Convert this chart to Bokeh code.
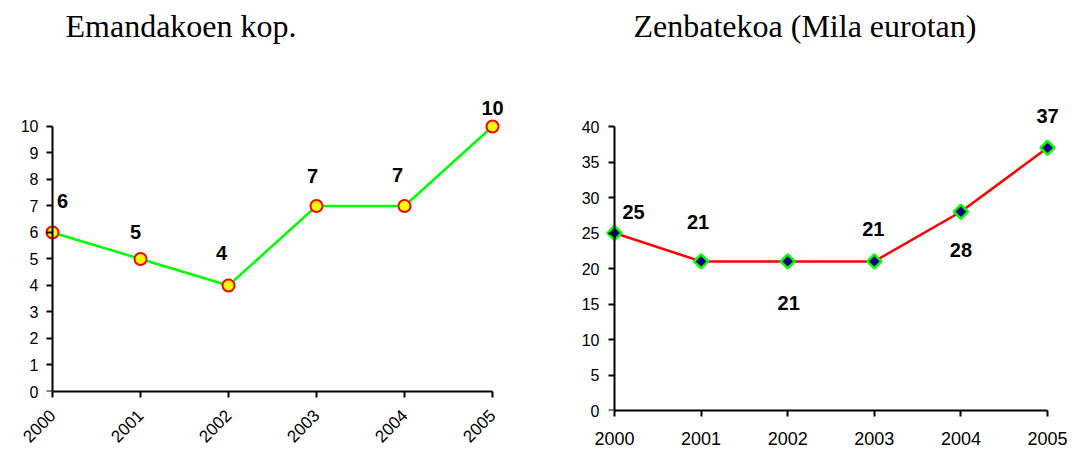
import math
from bokeh.plotting import figure
from bokeh.models import ColumnDataSource, Range1d, FixedTicker, LinearAxis
from bokeh.layouts import row
from bokeh.embed import file_html
from bokeh.resources import INLINE
from bokeh.core.properties import value

# ---- data ----
years = [2000, 2001, 2002, 2003, 2004, 2005]
count_values = [6, 5, 4, 7, 7, 10]
amount_values = [25, 21, 21, 21, 28, 37]
count_labels = ["6", "5", "4", "7", "7", "10"]
amount_labels = ["25", "21", "21", "21", "28", "37"]
left_yticks = [0, 1, 2, 3, 4, 5, 6, 7, 8, 9, 10]
right_yticks = [0, 5, 10, 15, 20, 25, 30, 35, 40]
left_title = "Emandakoen kop."
right_title = "Zenbatekoa (Mila eurotan)"

# ---- label placement (pixel offsets from each point) ----
count_dx = [10, -5, -7, -4, -7, 0]
count_dy = [-31, -27, -32, -30, -31, -18]
amount_dx = [19, -3, 1, -1, 0, 0]
amount_dy = [-21, -39, 42, -32, 38, -32]

SANS = "Liberation Sans"
SERIF = "Liberation Serif"


def build(title, yticks, frame_w, frame_h, xr, yr, mb_left, mb_right,
          ylab_standoff, xlab_size, xlab_standoff, orient, title_offset):
    p = figure(
        title=title,
        frame_width=frame_w, frame_height=frame_h,
        x_range=Range1d(*xr), y_range=Range1d(*yr),
        min_border_left=mb_left, min_border_right=mb_right,
        min_border_top=0, min_border_bottom=0,
        output_backend="svg", toolbar_location=None,
    )
    p.xgrid.visible = False
    p.ygrid.visible = False
    p.outline_line_color = None

    # title
    p.title.text_font = SERIF
    p.title.text_font_size = "32px"
    p.title.text_font_style = "normal"
    p.title.text_color = "black"
    p.title.align = "left"
    p.title.offset = title_offset
    p.title.standoff = 10

    # x axis (at y = 0, the bottom of the frame)
    xa = p.xaxis[0]
    xa.ticker = FixedTicker(ticks=years)
    xa.bounds = (years[0], years[-1])
    xa.axis_line_color = "black"
    xa.axis_line_width = 2
    xa.major_tick_line_color = "black"
    xa.major_tick_line_width = 2
    xa.major_tick_out = 6
    xa.major_tick_in = 0
    xa.minor_tick_line_color = None
    xa.major_label_text_font = SANS
    xa.major_label_text_font_size = xlab_size
    xa.major_label_text_color = "black"
    xa.major_label_standoff = xlab_standoff
    if orient is not None:
        xa.major_label_orientation = orient

    # y axis labels (at the frame edge)
    ya = p.yaxis[0]
    ya.ticker = FixedTicker(ticks=yticks)
    ya.axis_line_color = None
    ya.major_tick_line_color = None
    ya.minor_tick_line_color = None
    ya.major_tick_out = 0
    ya.major_tick_in = 0
    ya.major_label_text_font = SANS
    ya.major_label_text_font_size = "16px"
    ya.major_label_text_color = "black"
    ya.major_label_standoff = ylab_standoff

    # y axis line and tick marks (label-free), placed at the first year
    yline = LinearAxis(
        fixed_location=years[0],
        ticker=FixedTicker(ticks=[], minor_ticks=yticks),
        bounds=(yticks[0], yticks[-1]),
        axis_line_color="black", axis_line_width=2,
        major_tick_line_color=None,
        minor_tick_line_color="black", minor_tick_line_width=2,
        minor_tick_out=6, minor_tick_in=0,
        major_label_standoff=0,
    )
    p.add_layout(yline, "left")
    return p


# ---- left chart ----
p1 = build(left_title, left_yticks, 472, 343,
           (1999.909, 2005.2727), (0, 12.943),
           44, 6, 6, "17px", 15, math.pi / 4, 21)
src1 = ColumnDataSource(dict(x=years, y=count_values, t=count_labels, dx=count_dx, dy=count_dy))
p1.line("x", "y", source=src1, line_color="#00ff00", line_width=2.5)
p1.scatter("x", "y", source=src1, marker="circle", size=12,
           fill_color="#ffff00", line_color="#ff0000", line_width=2)
p1.text("x", "y", text="t", x_offset="dx", y_offset="dy", source=src1,
        text_font=value(SANS), text_font_style="bold", text_font_size="20px",
        text_align="center", text_baseline="middle", text_color="black")

# ---- right chart ----
p2 = build(right_title, right_yticks, 458, 362,
           (1999.8845, 2005.1732), (0, 50.99),
           82, 8, 5, "18px", 15, None, 29)
src2 = ColumnDataSource(dict(x=years, y=amount_values, t=amount_labels, dx=amount_dx, dy=amount_dy))
p2.line("x", "y", source=src2, line_color="#ff0000", line_width=2.5)
p2.scatter("x", "y", source=src2, marker="square", angle=math.pi / 4, size=10,
           fill_color="#000080", line_color="#00ff00", line_width=2.5)
p2.text("x", "y", text="t", x_offset="dx", y_offset="dy", source=src2,
        text_font=value(SANS), text_font_style="bold", text_font_size="20px",
        text_align="center", text_baseline="middle", text_color="black")

layout = row(p1, p2, spacing=0)
open("out.html", "w").write(file_html(layout, INLINE))
